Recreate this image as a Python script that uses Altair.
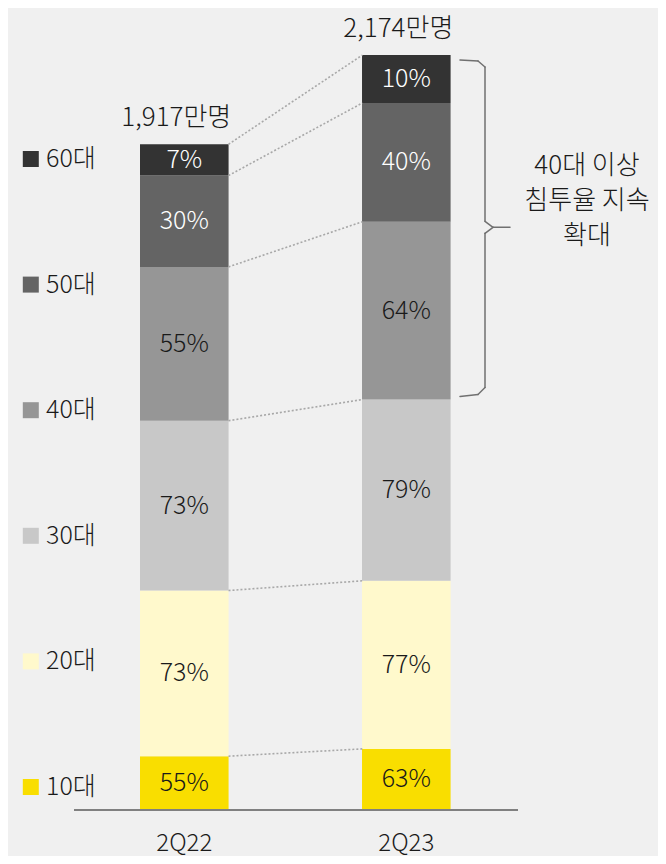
import altair as alt
import pandas as pd

FONT = "Noto Sans CJK KR Light, Noto Sans CJK KR, sans-serif"
FW = 300

quarters = ["2Q22", "2Q23"]
ages = ["10대", "20대", "30대", "40대", "50대", "60대"]
users_2q22 = [155, 477, 489, 443, 263, 90]     # 만명, sums to 1,917
users_2q23 = [176, 484, 522, 512, 342, 138]    # 만명, sums to 2,174
pct_2q22 = ["55%", "73%", "73%", "55%", "30%", "7%"]
pct_2q23 = ["63%", "77%", "79%", "64%", "40%", "10%"]
totals = [1917, 2174]
total_labels = ["1,917만명", "2,174만명"]
colors = ["#f9de00", "#fff9cc", "#c8c8c8", "#969696", "#646464", "#333333"]
text_colors = ["#1a1a1a", "#1a1a1a", "#1a1a1a", "#1a1a1a", "#ffffff", "#ffffff"]
annotation_lines = ["40대 이상", "침투율 지속", "확대"]

# ---- tables built from the arrays ----
rows = []
cum = {}
for q, vals, pcts in [("2Q22", users_2q22, pct_2q22), ("2Q23", users_2q23, pct_2q23)]:
    c = 0
    tops = []
    for a, v, p, tc in zip(ages, vals, pcts, text_colors):
        rows.append({"quarter": q, "age": a, "y0": c, "y1": c + v, "mid": c + v / 2,
                     "pct": p, "tc": tc})
        c += v
        tops.append(c)
    cum[q] = tops
seg = pd.DataFrame(rows)
tot = pd.DataFrame({"quarter": quarters, "total": totals, "label": total_labels})
conn = pd.DataFrame({"c22": cum["2Q22"], "c23": cum["2Q23"]})
base = pd.DataFrame({"base": [0]})
top23 = cum["2Q23"][-1]
bot23 = cum["2Q23"][2]
brace = pd.DataFrame({"T": [top23], "B": [bot23], "M": [(top23 + bot23) / 2]})
legend_df = pd.DataFrame({"age": ages})
annot = pd.DataFrame({"t": ["\n".join(annotation_lines)]})

yscale = alt.Scale(domain=[0, 2309.5], nice=False, zero=False)
xdef = alt.X(
    "quarter:N",
    sort=quarters,
    scale=alt.Scale(domain=quarters, range=[132, 442.6], paddingInner=0.601, paddingOuter=0),
    axis=alt.Axis(title=None, labelAngle=0, domain=False, ticks=False, tickSize=0,
                  labelPadding=33, labelBaseline="middle", labelFontSize=24,
                  labelFont=FONT, labelFontWeight=FW, labelColor="#1a1a1a", grid=False),
)
cscale = alt.Scale(domain=ages, range=colors)

bars = alt.Chart(seg).mark_bar().encode(
    x=xdef,
    y=alt.Y("y0:Q", scale=yscale, axis=None),
    y2="y1:Q",
    color=alt.Color("age:N", scale=cscale, legend=None),
)

pct_text = alt.Chart(seg).mark_text(font=FONT, fontWeight=FW, fontSize=25,
                                    baseline="middle").encode(
    x=xdef,
    y=alt.Y("mid:Q", scale=yscale, axis=None),
    text="pct:N",
    color=alt.Color("tc:N", scale=None),
)

tot_text = alt.Chart(tot).mark_text(font=FONT, fontWeight=FW, fontSize=26,
                                    baseline="alphabetic",
                                    dx=-8, dy=-18, color="#1a1a1a").encode(
    x=xdef,
    y=alt.Y("total:Q", scale=yscale, axis=None),
    text="label:N",
)

connectors = alt.Chart(conn).mark_rule(color="#a8a8a8", strokeWidth=1.6,
                                       strokeDash=[2, 2]).encode(
    x=alt.value(220.5), x2=alt.value(354.4),
    y=alt.Y("c22:Q", scale=yscale, axis=None), y2="c23:Q",
)

axis_line = alt.Chart(base).mark_rule(color="#808080", strokeWidth=2).encode(
    x=alt.value(66), x2=alt.value(510),
    y=alt.Y("base:Q", scale=yscale, axis=None),
)

BR = "#707070"


def piece(x1, x2, f1, o1, f2, o2):
    return alt.Chart(brace).mark_rule(color=BR, strokeWidth=1.5, strokeCap="round",
                                      yOffset=o1, y2Offset=o2).encode(
        x=alt.value(x1), x2=alt.value(x2),
        y=alt.Y(f"{f1}:Q", scale=yscale, axis=None), y2=f"{f2}:Q",
    )


brace_layers = [
    piece(452, 470, "T", 5, "T", 6),
    piece(470, 477, "T", 6, "T", 12),
    piece(477, 477, "T", 12, "M", -6),
    piece(477, 485, "M", -6, "M", 0),
    piece(485, 502, "M", 0, "M", 0),
    piece(477, 485, "M", 6, "M", 0),
    piece(477, 477, "M", 6, "B", -12),
    piece(477, 470, "B", -12, "B", -5),
    piece(470, 452, "B", -5, "B", -3),
]

annot_text = alt.Chart(annot).mark_text(font=FONT, fontWeight=FW, fontSize=26,
                                        align="center", baseline="middle",
                                        lineBreak="\n", lineHeight=35,
                                        color="#1a1a1a").encode(
    x=alt.value(579), y=alt.value(158), text="t:N",
)

lyscale = alt.Scale(domain=ages[::-1], range=[151, 779], padding=0)
leg_sq = alt.Chart(legend_df).mark_square(size=256, opacity=1, filled=True).encode(
    x=alt.value(22.8),
    y=alt.Y("age:N", scale=lyscale, axis=None),
    color=alt.Color("age:N", scale=cscale, legend=None),
)
leg_txt = alt.Chart(legend_df).mark_text(font=FONT, fontWeight=FW, fontSize=25,
                                         align="left", baseline="middle",
                                         color="#1a1a1a").encode(
    x=alt.value(38),
    y=alt.Y("age:N", scale=lyscale, axis=None),
    text="age:N",
)

chart = alt.layer(
    bars, connectors, axis_line, *brace_layers, pct_text, tot_text, annot_text,
    leg_sq, leg_txt,
).resolve_scale(y="independent").properties(
    width=650, height=802,
    autosize=alt.AutoSizeParams(type="none"),
    padding={"left": 0, "top": 0, "right": 0, "bottom": 46},
    background="#f0f0f0",
).configure_view(stroke=None)

chart.save("out.html", embed_options={"renderer": "svg", "actions": False})
